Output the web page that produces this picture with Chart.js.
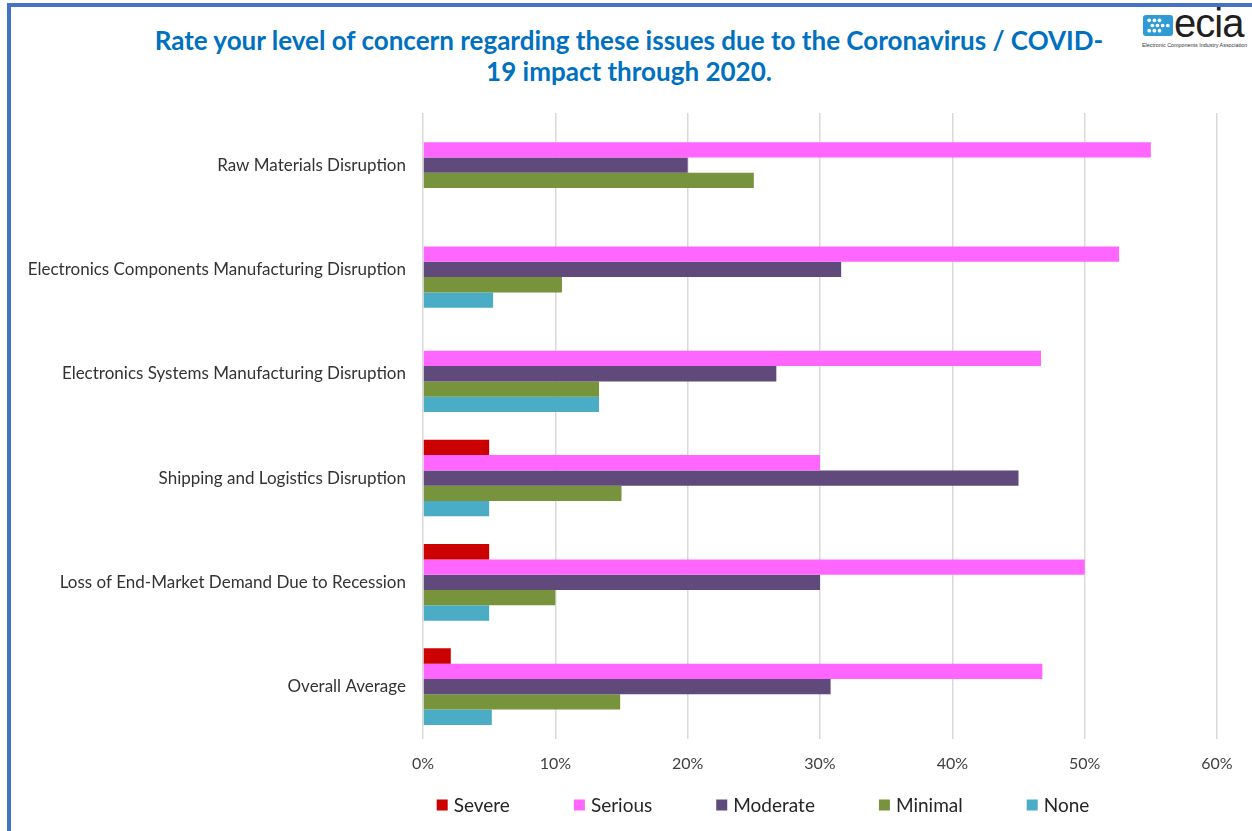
<!DOCTYPE html>
<html>
<head>
<meta charset="utf-8">
<script src="https://cdn.jsdelivr.net/npm/chart.js@4"></script>
<style>
  html,body{margin:0;padding:0;background:#fff;}
  body{width:1252px;height:831px;position:relative;overflow:hidden;font-family:Lato,"Open Sans",sans-serif;}
  #frame{position:absolute;left:7px;top:3px;width:1260px;height:840px;border-top:4px solid #4472C4;border-left:4px solid #4472C4;box-sizing:border-box;}
  #title{position:absolute;left:0;width:1258px;top:25px;text-align:center;color:#0070C0;font-weight:bold;font-size:26px;line-height:31px;}
  #logo{position:absolute;left:1142px;top:12px;width:108px;height:40px;}
  #logo .ico{position:absolute;left:1px;top:3px;width:30px;height:21px;background:#2E9BD6;border-radius:3px;}
  #logo .txt{position:absolute;left:32px;top:-11px;font-family:"Liberation Sans",Arial,sans-serif;font-size:40px;color:#231F20;letter-spacing:-1px;}
  #logo .sub{position:absolute;left:0;top:30px;font-family:"Liberation Sans",Arial,sans-serif;font-size:5.4px;color:#333;white-space:nowrap;}
  canvas{position:absolute;left:0;top:0;}
</style>
</head>
<body>
<div id="frame"></div>
<div id="title">Rate your level of concern regarding these issues due to the Coronavirus / COVID-<br>19 impact through 2020.</div>
<div id="logo">
  <div class="ico">
    <svg width="30" height="21" viewBox="0 0 29 20">
      <g fill="#fff">
        <circle cx="6" cy="5" r="1.8"/><circle cx="11" cy="5" r="1.8"/><circle cx="16" cy="5" r="1.8"/>
        <circle cx="9" cy="10" r="1.8"/><circle cx="14" cy="10" r="1.8"/><circle cx="19" cy="10" r="1.8"/><circle cx="24" cy="10" r="1.8"/>
        <circle cx="6" cy="15" r="1.8"/><circle cx="11" cy="15" r="1.8"/><circle cx="16" cy="15" r="1.8"/>
      </g>
    </svg>
  </div>
  <div class="txt">ecia</div>
  <div class="sub">Electronic Components Industry Association</div>
</div>
<canvas id="c" width="1252" height="831"></canvas>
<script>
const categories = [
  "Raw Materials Disruption",
  "Electronics Components Manufacturing Disruption",
  "Electronics Systems Manufacturing Disruption",
  "Shipping and Logistics Disruption",
  "Loss of End-Market Demand Due to Recession",
  "Overall Average"
];
const seriesNames = ["Severe", "Serious", "Moderate", "Minimal", "None"];
const severe   = [0, 0, 0, 5, 5, 2.1];
const serious  = [55, 52.6, 46.7, 30, 50, 46.8];
const moderate = [20, 31.6, 26.7, 45, 30, 30.8];
const minimal  = [25, 10.5, 13.3, 15, 10, 14.9];
const none     = [0, 5.3, 13.3, 5, 5, 5.2];
const xTicks = [0, 10, 20, 30, 40, 50, 60];
const colors = ["#CC0000", "#FF66FF", "#604A7B", "#77933C", "#4BACC6"];

const seriesValues = [severe, serious, moderate, minimal, none];

const legendPlugin = {
  id: 'customLegend',
  afterDraw(chart) {
    const ctx = chart.ctx;
    const ds = chart.data.datasets;
    ctx.save();
    ctx.font = '19px Lato, "Open Sans", sans-serif';
    const box = 11, gap = 6, spacing = 64;
    let total = 0;
    ds.forEach((d, i) => {
      total += box + gap + ctx.measureText(d.label).width;
      if (i < ds.length - 1) total += spacing;
    });
    let x = 763 - total / 2;
    const y = 805;
    ctx.textBaseline = 'middle';
    ctx.textAlign = 'left';
    ds.forEach((d) => {
      ctx.fillStyle = d.backgroundColor;
      ctx.fillRect(x, y - box / 2, box, box);
      x += box + gap;
      ctx.fillStyle = '#262626';
      ctx.fillText(d.label, x, y + 1);
      x += ctx.measureText(d.label).width + spacing;
    });
    ctx.restore();
  }
};

new Chart(document.getElementById('c'), {
  type: 'bar',
  data: {
    labels: categories,
    datasets: seriesNames.map((n, i) => ({
      label: n,
      data: seriesValues[i],
      backgroundColor: colors[i],
      borderWidth: 0
    }))
  },
  options: {
    indexAxis: 'y',
    responsive: false,
    animation: false,
    devicePixelRatio: 1,
    categoryPercentage: 0.734,
    barPercentage: 1.0,
    layout: { padding: { top: 113, bottom: 43, left: 0, right: 35 } },
    plugins: {
      legend: { display: false },
      title: { display: false },
      tooltip: { enabled: false }
    },
    scales: {
      x: {
        min: 0, max: 60,
        afterBuildTicks(scale) { scale.ticks = xTicks.map(v => ({ value: v })); },
        ticks: {
          callback: v => v + '%',
          color: '#404040',
          font: { family: 'Lato, "Open Sans", sans-serif', size: 16 },
          padding: 15
        },
        grid: { color: '#D9D9D9', lineWidth: 1.5, drawTicks: false },
        border: { display: false }
      },
      y: {
        afterFit(scale) { scale.width = 423; },
        ticks: {
          color: '#333333',
          font: { family: 'Lato, "Open Sans", sans-serif', size: 17 },
          padding: 17
        },
        grid: { display: false, drawTicks: false },
        border: { display: false }
      }
    }
  },
  plugins: [legendPlugin]
});
</script>
</body>
</html>
